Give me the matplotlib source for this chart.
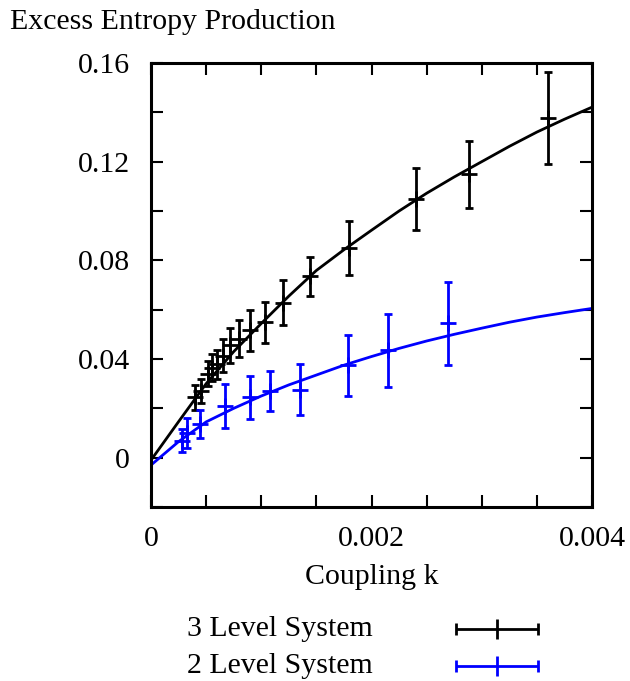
import matplotlib
matplotlib.use("Agg")

import matplotlib.pyplot as plt
from matplotlib.ticker import FixedLocator, FixedFormatter

plt.rcParams.update({
    "font.family": ["Liberation Serif", "DejaVu Serif"],
    "font.size": 21.5,
    "axes.linewidth": 2.2,
})

# measured points, 3 level system
k3 = [0.0004, 0.00045, 0.000514, 0.000554, 0.0006, 0.000655, 0.00072, 0.0008,
      0.0009, 0.00103, 0.0012, 0.00144, 0.0018, 0.0024, 0.00288, 0.0036]
s3 = [0.0244, 0.0270, 0.0341, 0.0365, 0.0378, 0.0414, 0.0455, 0.0483,
      0.0516, 0.0548, 0.0629, 0.0735, 0.0849, 0.1048, 0.1149, 0.1377]
e3 = [0.0050, 0.0050, 0.0050, 0.0055, 0.0060, 0.0068, 0.0070, 0.0075,
      0.0082, 0.0085, 0.0090, 0.0080, 0.0110, 0.0126, 0.0136, 0.0185]

# measured points, 2 level system
k2 = [0.00028, 0.00033, 0.00044, 0.00067, 0.0009, 0.00108, 0.00135, 0.00179,
      0.00215, 0.00269]
s2 = [0.0069, 0.0100, 0.0135, 0.0210, 0.0244, 0.0272, 0.0276, 0.0374,
      0.0435, 0.0544]
e2 = [0.0048, 0.0060, 0.0057, 0.0090, 0.0088, 0.0081, 0.0105, 0.0124,
      0.0147, 0.0168]

# fitted curves
kfit = [0, 0.00025, 0.0005, 0.00075, 0.001, 0.00125, 0.0015, 0.00175, 0.002,
        0.00225, 0.0025, 0.00275, 0.003, 0.00325, 0.0035, 0.00375, 0.004]
fit3 = [-0.001, 0.0146, 0.0300, 0.0430, 0.0544, 0.0655, 0.0759, 0.0843, 0.0922,
        0.1000, 0.1072, 0.1138, 0.1200, 0.1262, 0.1320, 0.1372, 0.1421]
fit2 = [-0.003, 0.0065, 0.0145, 0.0200, 0.0250, 0.0295, 0.0335, 0.0375, 0.0410,
        0.0443, 0.0473, 0.0500, 0.0525, 0.0549, 0.0570, 0.0588, 0.0605]

xticks = [0, 0.0005, 0.001, 0.0015, 0.002, 0.0025, 0.003, 0.0035, 0.004]
xlabels = ["0", "", "", "", "0.002", "", "", "", "0.004"]
yticks = [-0.02, 0, 0.02, 0.04, 0.06, 0.08, 0.10, 0.12, 0.14, 0.16]
ylabels = ["", "0", "", "0.04", "", "0.08", "", "0.12", "", "0.16"]

fig = plt.figure(figsize=(6.3, 6.81), dpi=100)
ax = fig.add_axes([0.2397, 0.2555, 0.7, 0.652])

ax.errorbar(k3, s3, yerr=e3, fmt="+", color="black", ms=12, mew=2,
            elinewidth=2, capsize=3, capthick=2)
ax.errorbar(k2, s2, yerr=e2, fmt="+", color="#0000ff", ms=12, mew=2,
            elinewidth=2, capsize=3, capthick=2)
ax.plot(kfit, fit3, color="black", lw=2)
ax.plot(kfit, fit2, color="#0000ff", lw=2)

ax.set_xlim(0, 0.004)
ax.set_ylim(-0.02, 0.16)
ax.xaxis.set_major_locator(FixedLocator(xticks))
ax.xaxis.set_major_formatter(FixedFormatter(xlabels))
ax.yaxis.set_major_locator(FixedLocator(yticks))
ax.yaxis.set_major_formatter(FixedFormatter(ylabels))
ax.tick_params(direction="in", length=8.5, width=1.5, top=True, right=True,
               labelsize=21.5)
ax.tick_params(axis="x", pad=14)
ax.tick_params(axis="y", pad=15)

ax.set_xlabel("Coupling k", fontsize=21.5, labelpad=8)
fig.text(0.016, 0.967, "Excess Entropy Production", fontsize=21.5,
         ha="left", va="center")

# legend, drawn by hand like the gnuplot key
fig.text(0.297, 0.076, "3 Level System", fontsize=21.5, va="center")
fig.text(0.297, 0.022, "2 Level System", fontsize=21.5, va="center")
leg = fig.add_axes([0.724, 0.0, 0.13, 0.11])
leg.set_xlim(0, 1)
leg.set_ylim(0, 1)
leg.axis("off")
for yy, c in [(0.69, "black"), (0.20, "#0000ff")]:
    leg.errorbar([0.5], [yy], xerr=[0.5], fmt="|", color=c, ms=14, mew=2,
                 elinewidth=2, capsize=4, capthick=2, clip_on=False)

fig.savefig("out.png", dpi=100)
